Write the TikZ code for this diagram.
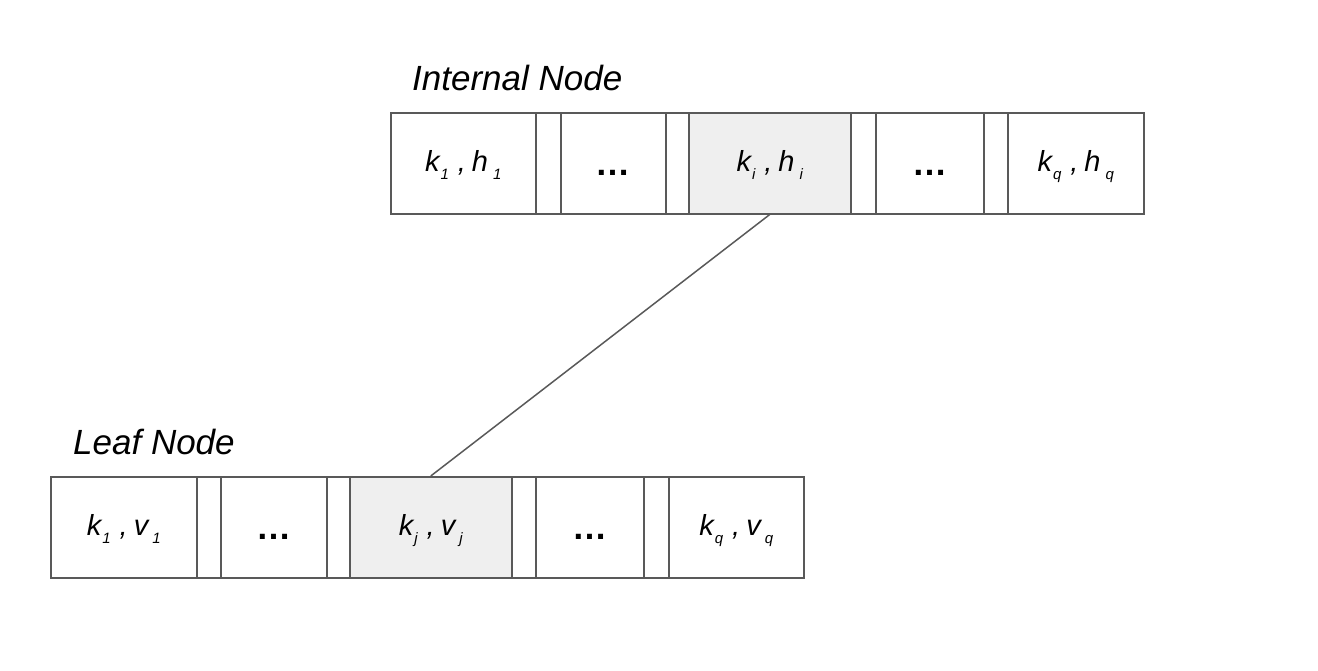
\documentclass[tikz,border=0pt]{standalone}
\usepackage{fontspec}
\setmainfont{Liberation Sans}
\definecolor{linegray}{HTML}{595959}
\definecolor{cellfill}{HTML}{EFEFEF}
\newcommand\lsub[2][1pt]{\hspace{#1}\smash{\raisebox{-8pt}{\fontsize{15}{15}\selectfont #2}}}
\newcommand\kv[3]{k\lsub{#3}\hspace{9pt},\hspace{6pt}#1\lsub[#2]{#3}}
\newcommand\celldots{\smash{\raisebox{-2pt}{\fontsize{35}{35}\selectfont\upshape\bfseries …}}\vphantom{k}}
\begin{document}
\begin{tikzpicture}[x=1pt,y=-1pt,
  cell/.style={draw=linegray, line width=1.5pt, rectangle, inner sep=0pt,
    minimum height=101pt, anchor=north west, font=\fontsize{29}{34}\selectfont\itshape},
  shaded/.style={cell, fill=cellfill},
  title/.style={anchor=base west, inner sep=0pt, font=\fontsize{35}{40}\selectfont\itshape},
  link/.style={draw=linegray, line width=1.5pt}]
\useasboundingbox (0,0) rectangle (1318,670);
\node[title] (tin) at (412,90) {Internal Node};
\node[cell, minimum width=145pt] (i1) at (390,112) {\kv{h}{5pt}{1}};
\node[cell, minimum width=25pt] (i2) at (535,112) {};
\node[cell, minimum width=105pt] (i3) at (560,112) {\celldots};
\node[cell, minimum width=23pt] (i4) at (665,112) {};
\node[shaded, minimum width=162pt] (i5) at (688,112) {\kv{h}{5pt}{i}};
\node[cell, minimum width=25pt] (i6) at (850,112) {};
\node[cell, minimum width=108pt] (i7) at (875,112) {\celldots};
\node[cell, minimum width=24pt] (i8) at (983,112) {};
\node[cell, minimum width=136pt] (i9) at (1007,112) {\kv{h}{5pt}{q}};

\node[title] (tleaf) at (73,454) {Leaf Node};
\node[cell, minimum width=146pt] (l1) at (50,476) {\kv{v}{4pt}{1}};
\node[cell, minimum width=24pt] (l2) at (196,476) {};
\node[cell, minimum width=106pt] (l3) at (220,476) {\celldots};
\node[cell, minimum width=23pt] (l4) at (326,476) {};
\node[shaded, minimum width=162pt] (l5) at (349,476) {\kv{v}{4pt}{j}};
\node[cell, minimum width=24pt] (l6) at (511,476) {};
\node[cell, minimum width=108pt] (l7) at (535,476) {\celldots};
\node[cell, minimum width=25pt] (l8) at (643,476) {};
\node[cell, minimum width=135pt] (l9) at (668,476) {\kv{v}{4pt}{q}};

\draw[link] (i5.south) -- (l5.north);
\end{tikzpicture}
\end{document}
